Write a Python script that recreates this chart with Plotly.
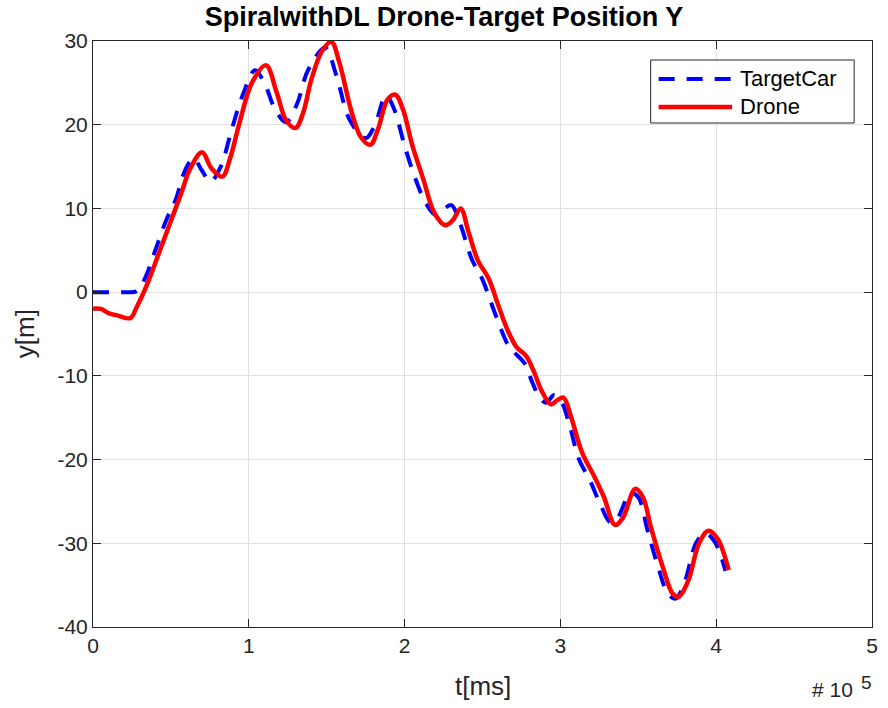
import plotly.graph_objects as go

# Time axis in units of 1e5 ms
target_t = [0.00, 0.10, 0.20, 0.28, 0.33, 0.40, 0.47, 0.53, 0.59, 0.645, 0.70, 0.755,
            0.82, 0.89, 0.96, 1.04, 1.10, 1.17, 1.24, 1.31, 1.38, 1.49, 1.56, 1.65,
            1.75, 1.81, 1.88, 1.93, 2.00, 2.07, 2.14, 2.20, 2.25, 2.30, 2.36, 2.43,
            2.50, 2.56, 2.62, 2.67, 2.72, 2.77, 2.82, 2.87, 2.91, 2.96, 3.01, 3.06,
            3.12, 3.19, 3.26, 3.32, 3.36, 3.45, 3.50, 3.56, 3.63, 3.69, 3.74, 3.80,
            3.87, 3.93, 3.99, 4.06]
target_y = [0.0, 0.0, 0.0, 0.1, 1.5, 5.0, 8.6, 11.0, 14.5, 16.0, 14.5, 13.2,
            15.0, 19.4, 23.5, 26.5, 25.0, 21.8, 20.3, 22.5, 26.5, 29.2, 26.0, 20.5,
            18.4, 20.0, 23.5, 22.0, 17.5, 13.5, 10.5, 9.2, 9.9, 10.4, 8.0, 4.0,
            1.5, -1.5, -4.5, -6.5, -7.5, -8.5, -10.8, -12.7, -13.2, -12.3, -13.2, -16.0,
            -20.0, -22.5, -25.5, -27.5, -27.2, -24.0, -24.5, -28.5, -33.0, -36.0, -36.6, -34.5,
            -30.0, -28.8, -29.8, -33.3]

drone_t = [0.00, 0.05, 0.10, 0.16, 0.24, 0.28, 0.34, 0.42, 0.51, 0.57, 0.62, 0.70,
           0.76, 0.83, 0.88, 0.94, 1.02, 1.11, 1.18, 1.24, 1.30, 1.35, 1.40, 1.47,
           1.53, 1.58, 1.66, 1.72, 1.78, 1.83, 1.89, 1.94, 1.99, 2.05, 2.12, 2.19,
           2.26, 2.31, 2.36, 2.41, 2.47, 2.54, 2.60, 2.66, 2.72, 2.78,
           2.83, 2.88, 2.94, 2.98, 3.02, 3.07, 3.14, 3.22, 3.28, 3.35, 3.40, 3.48,
           3.53, 3.58, 3.66, 3.72, 3.76, 3.82, 3.89, 3.95, 4.01, 4.08]
drone_y = [-2.0, -2.0, -2.5, -2.8, -3.1, -1.8, 0.6, 4.5, 9.0, 12.0, 14.6, 16.7,
           14.8, 13.8, 16.0, 20.2, 25.0, 27.1, 23.8, 20.5, 19.6, 21.5, 25.3, 28.8,
           29.9, 27.5, 21.5, 18.5, 17.6, 19.5, 23.0, 23.6, 21.8, 17.5, 13.5, 9.5,
           8.0, 8.6, 10.0, 7.2, 3.8, 1.6, -1.5, -4.5, -6.6, -7.6,
           -9.5, -11.8, -13.4, -12.9, -12.6, -15.0, -19.2, -22.1, -24.5, -27.8, -27.0, -23.5,
           -24.5, -28.0, -33.0, -36.0, -36.4, -34.5, -30.0, -28.5, -29.5, -33.2]

x_ticks = [0, 1, 2, 3, 4, 5]
y_ticks = [-40, -30, -20, -10, 0, 10, 20, 30]

AX = "#262626"
GRID = "#e0e0e0"
FONT = "Liberation Sans, Arial, sans-serif"

fig = go.Figure()
fig.add_trace(go.Scatter(
    x=target_t, y=target_y, mode="lines", name="TargetCar",
    line=dict(color="#0000ff", width=4, dash="16px,12px", shape="spline"),
    showlegend=False,
))
fig.add_trace(go.Scatter(
    x=drone_t, y=drone_y, mode="lines", name="Drone",
    line=dict(color="#ff0000", width=4.5, shape="spline"),
    showlegend=False,
))

axis_common = dict(
    showgrid=True, gridcolor=GRID, gridwidth=1,
    showline=True, linecolor=AX, linewidth=1, mirror="ticks",
    ticks="inside", ticklen=8, tickcolor=AX, tickwidth=1,
    zeroline=False,
    tickfont=dict(family=FONT, size=21, color=AX),
)

fig.update_xaxes(range=[0, 5], tickvals=x_ticks, ticktext=[str(v) for v in x_ticks],
                 **axis_common)
fig.update_yaxes(range=[-40, 30], tickvals=y_ticks, ticktext=[str(v) for v in y_ticks],
                 **axis_common)

# Legend box drawn in paper coordinates
legend_entries = [("TargetCar", "#0000ff", "16px,12px", 4, 0.9352),
                  ("Drone", "#ff0000", "solid", 4.5, 0.8874)]
shapes = [dict(type="rect", xref="paper", yref="paper",
               x0=0.7159, x1=0.9771, y0=0.8601, y1=0.9676,
               line=dict(color=AX, width=1), fillcolor="white", layer="above")]
annotations = []
for label, color, dash, w, yy in legend_entries:
    shapes.append(dict(type="line", xref="paper", yref="paper",
                       x0=0.7261, x1=0.8204, y0=yy, y1=yy,
                       line=dict(color=color, width=w, dash=dash), layer="above"))
    annotations.append(dict(text=label, xref="paper", yref="paper", x=0.8280, y=yy,
                            xanchor="left", yanchor="middle", showarrow=False,
                            font=dict(family=FONT, size=22, color="#000000")))

annotations += [
    dict(text="t[ms]", xref="paper", yref="paper", x=0.5, y=-0.1,
         xanchor="center", yanchor="middle", showarrow=False,
         font=dict(family=FONT, size=26, color=AX)),
    dict(text="y[m]", xref="paper", yref="paper", x=-0.087, y=0.5,
         xanchor="center", yanchor="middle", showarrow=False, textangle=-90,
         font=dict(family=FONT, size=26, color=AX)),
    # axis exponent: "# 10" followed by a raised "5"
    dict(text="# 10", xref="paper", yref="paper", x=0.978, y=-0.1075,
         xanchor="right", yanchor="middle", showarrow=False,
         font=dict(family=FONT, size=21, color=AX)),
    dict(text="5", xref="paper", yref="paper", x=1.003, y=-0.095,
         xanchor="right", yanchor="middle", showarrow=False,
         font=dict(family=FONT, size=19, color=AX)),
]

fig.update_layout(
    width=888, height=708,
    margin=dict(l=93, r=10, t=41, b=81),
    paper_bgcolor="white", plot_bgcolor="white",
    title=dict(text="<b>SpiralwithDL Drone-Target Position Y</b>",
               x=0.5, xref="container", xanchor="center",
               y=0.976, yref="container", yanchor="middle",
               font=dict(family=FONT, size=27, color="#000000")),
    shapes=shapes, annotations=annotations,
)

fig.write_html("out.html")
